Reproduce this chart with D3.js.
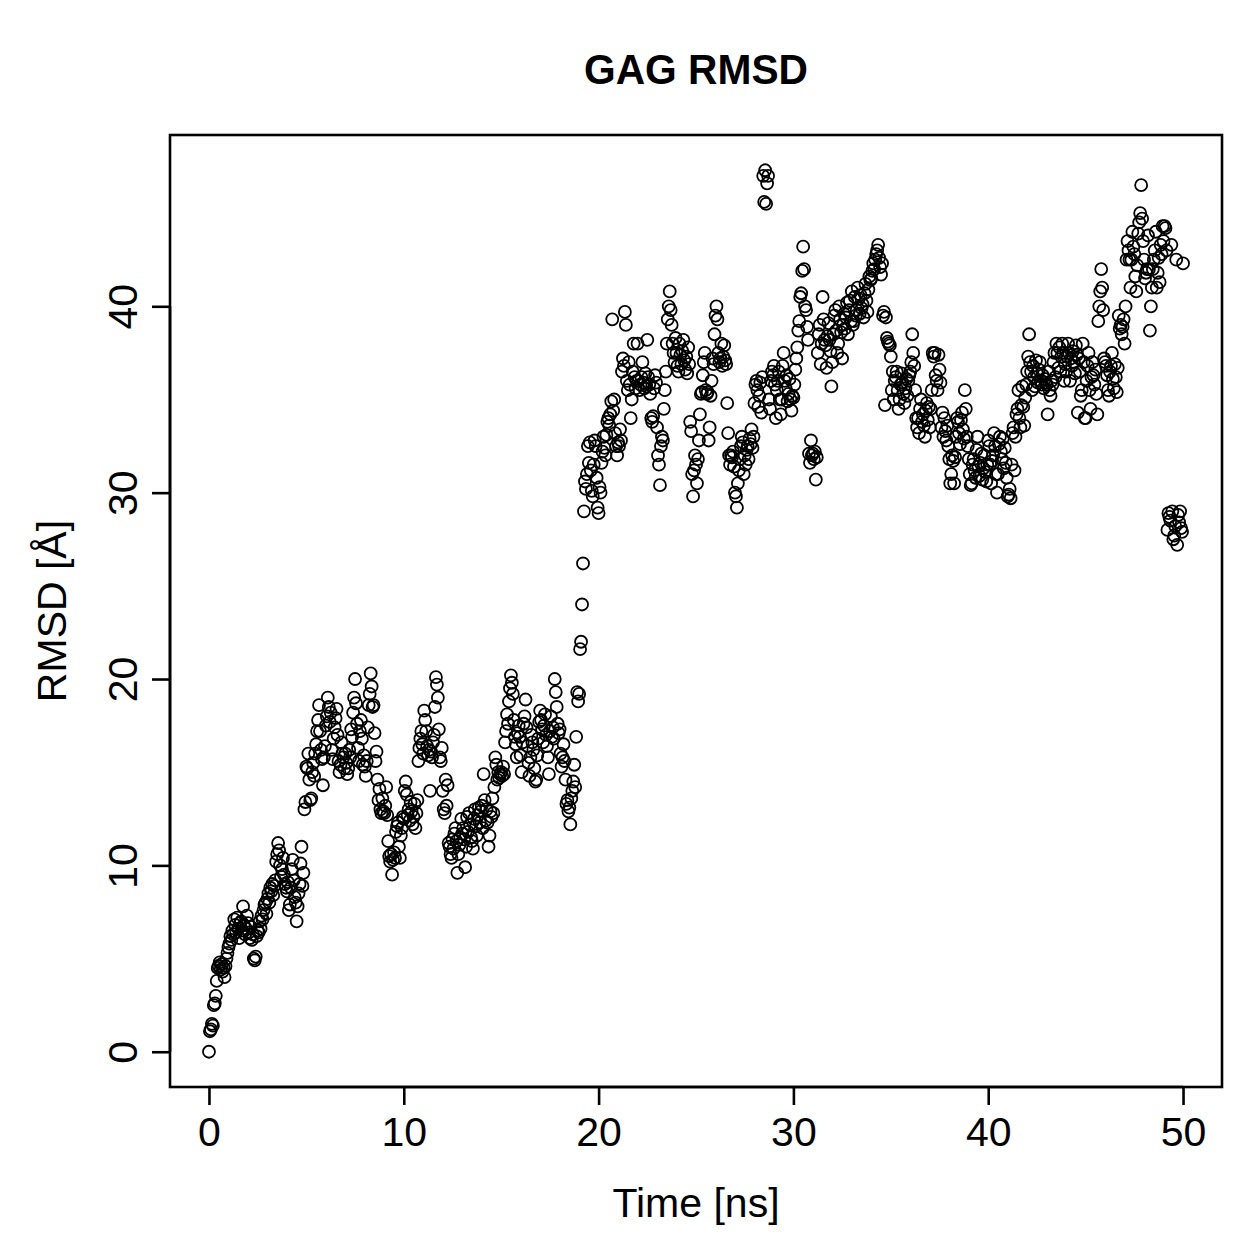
<!DOCTYPE html>
<html><head><meta charset="utf-8">
<script src="https://cdn.jsdelivr.net/npm/d3@7"></script>
<style>body{margin:0;background:#fff}svg{display:block}text{font-family:"Liberation Sans",Arial,Helvetica,sans-serif}</style>
</head><body>
<script>
// RMSD values [Å], one inner array per nanosecond (frames every ~0.05 ns)
const rmsd_0_10 = [
 [0.0,1.1,1.2,1.5,1.4,2.5,2.6,3.0,3.8,4.5,4.6,4.8,4.4,4.7,4.3,4.5,4.0,4.6,5.0,5.3],
 [5.6,5.8,6.2,6.0,6.5,6.3,7.1,6.8,6.4,7.2,6.6,6.1,6.9,7.0,6.5,7.8,6.8,6.3,6.6,7.3],
 [6.9,6.4,6.1,6.7,6.0,6.3,5.0,4.9,5.1,6.2,6.5,6.4,7.0,6.6,7.3,7.1,7.6,7.9,8.0,7.4],
 [8.2,8.5,8.0,8.8,8.6,9.0,8.4,8.9,9.2,10.2,10.6,11.2,10.8,10.0,9.4,9.8,10.4,9.5,9.0,8.8],
 [8.6,9.1,7.6,7.9,8.8,9.8,10.3,9.2,8.3,8.0,7.0,7.8,8.5,9.0,10.1,11.0,8.9,9.6,13.0,13.4],
 [15.3,15.2,16.0,14.6,13.5,13.6,15.0,15.5,14.8,16.0,16.5,17.2,17.8,18.6,17.2,16.2,15.7,14.3,15.8,16.4],
 [17.5,18.0,19.0,18.5,17.7,18.2,16.2,15.7,16.8,17.4,17.9,18.4,17.0,15.6,15.0,15.4,16.6,16.0,15.8,15.2],
 [16.0,15.5,14.9,15.2,16.2,15.8,17.3,16.9,18.2,19.0,20.0,18.7,17.6,16.3,15.6,17.2,17.8,16.8,15.4,15.9],
 [15.3,14.8,15.6,17.4,18.6,19.2,20.3,19.6,18.5,18.6,17.1,15.6,16.1,14.6,13.5,14.1,13.0,12.8,13.6,12.9],
 [12.8,13.2,14.2,12.7,11.3,10.5,10.2,10.6,9.5,10.3,10.7,10.4,11.8,12.1,12.3,11.0,10.4,11.6,12.0,12.6]
];
const rmsd_10_20 = [
 [12.5,14.0,14.5,13.8,12.7,13.0,12.4,13.4,12.9,12.2,12.6,13.3,12.0,12.8,13.5,15.6,16.3,16.8,17.2,16.5],
 [16.0,18.3,17.8,17.2,16.4,15.9,16.2,14.0,16.1,15.8,16.6,17.0,18.5,20.1,19.7,19.0,17.3,15.8,15.6,16.3],
 [14.0,13.0,12.8,14.6,13.2,14.3,11.2,11.0,10.6,10.4,11.4,10.9,11.7,12.0,11.3,9.6,10.6,11.1,11.5,12.5],
 [11.7,12.0,11.4,9.9,11.0,12.6,11.8,12.8,12.2,11.5,11.3,10.9,12.5,13.0,12.1,11.6,12.7,13.1,12.3,12.9],
 [13.2,12.0,14.9,13.5,12.4,13.0,12.3,11.0,11.6,12.9,12.6,13.6,12.8,14.2,15.8,15.4,14.6,15.0,14.7,14.9],
 [15.0,14.8,15.3,14.9,16.6,17.2,18.1,17.6,18.8,19.5,20.2,19.8,19.2,17.8,16.9,16.5,15.8,17.1,17.5,16.9],
 [15.9,15.0,16.6,17.6,18.0,18.9,17.4,16.4,15.5,14.8,15.8,17.0,16.6,16.2,15.2,14.5,14.6,15.9,16.8,17.7],
 [18.3,17.8,17.3,16.6,17.5,18.1,17.0,16.4,15.8,14.9,17.2,18.0,16.9,17.4,16.8,20.0,19.3,18.5,17.6,17.1],
 [17.3,16.0,15.3,15.8,16.5,15.6,14.6,13.3,13.5,12.9,13.1,12.2,13.6,14.0,14.5,15.4,14.2,16.9,19.3,18.8],
 [19.2,21.6,22.0,24.0,26.2,29.0,30.6,30.2,31.0,32.5,31.6,32.7,31.2,30.1,29.8,31.5,32.8,32.5,30.8,29.2]
];
const rmsd_20_30 = [
 [28.9,30.3,30.0,31.6,32.2,33.0,32.4,32.0,33.1,33.8,34.0,33.6,34.2,34.9,39.3,34.4,35.0,33.2,32.5,32.0],
 [32.7,32.5,33.4,32.8,36.5,37.2,36.8,39.7,39.0,36.0,35.5,37.0,35.8,34.0,35.0,36.5,38.0,36.2,35.6,36.0],
 [38.0,36.0,35.5,35.8,36.2,37.0,35.9,35.6,36.4,35.7,38.2,36.2,35.8,35.3,34.0,33.8,34.1,35.6,36.3,35.9],
 [33.5,32.0,31.5,30.4,32.5,33.0,32.8,34.5,35.5,36.5,38.0,39.3,40.0,40.8,39.8,39.0,38.0,37.5,37.0,38.3],
 [37.5,36.8,36.5,38.0,37.4,36.9,37.6,38.2,37.1,36.6,37.3,36.4,37.8,36.9,33.8,33.3,31.0,29.8,31.2,32.0],
 [31.5,30.5,31.8,32.8,34.2,35.3,35.4,36.3,37.0,37.5,35.5,35.3,35.4,32.8,33.5,35.2,36.0,37.2,36.9,38.5],
 [39.5,40.0,39.3,37.5,37.0,37.2,38.0,36.8,37.3,37.9,37.1,36.9,34.8,33.2,32.0,31.5,32.0,31.9,32.2,31.4],
 [30.0,29.8,29.2,30.5,31.2,31.8,32.5,33.0,32.7,31.0,32.0,31.5,32.3,32.5,31.8,32.9,32.6,33.4,32.4,33.0],
 [34.8,35.8,36.0,35.5,34.6,35.2,35.9,34.3,36.2,47.0,45.6,47.3,45.5,46.6,47.0,35.0,34.5,36.0,36.5,36.3],
 [36.8,35.8,34.0,35.5,36.0,36.5,35.0,34.2,35.0,36.8,37.5,36.0,35.6,36.3,34.9,35.3,36.1,35.0,34.4,35.2]
];
const rmsd_30_40 = [
 [35.1,35.8,36.6,37.2,37.8,38.7,39.2,40.5,40.7,41.9,43.2,42.0,40.0,39.8,38.9,38.2,32.1,31.6,32.8,32.0],
 [32.1,31.8,32.2,30.7,31.9,37.5,38.5,39.0,36.9,38.0,40.5,39.3,38.2,37.9,36.7,38.4,39.1,38.2,37.6,35.7],
 [37.0,38.5,39.5,39.8,38.7,37.5,38.0,40.0,39.3,38.6,37.2,39.0,39.6,38.8,39.4,40.2,38.5,39.8,40.3,39.2],
 [40.8,39.0,39.2,40.5,39.5,39.8,41.0,40.4,39.6,40.6,39.9,40.1,39.4,40.7,41.2,40.3,39.7,40.9,41.6,41.4],
 [41.5,41.9,42.3,42.0,42.5,42.8,43.0,43.3,42.6,42.1,41.7,42.3,39.5,39.7,34.7,39.4,38.3,38.1,38.0,37.9],
 [37.3,35.5,36.5,35.0,36.0,36.2,36.5,35.5,34.5,35.0,35.8,36.4,35.9,35.3,34.8,35.6,36.1,35.2,36.0,36.3],
 [36.5,37.0,38.5,37.5,36.8,35.5,34.0,33.5,34.0,33.2,34.5,35.0,33.8,34.2,33.6,33.0,34.4,34.8,33.9,34.6],
 [33.5,34.5,35.5,37.5,37.3,37.5,36.3,36.0,35.5,37.4,36.6,35.9,33.5,34.3,33.0,34.0,33.3,32.8,33.6,32.5],
 [31.8,30.5,31.0,32.0,31.7,30.5,31.9,33.0,34.0,33.8,33.2,32.6,33.9,34.3,33.4,32.9,35.5,34.5,33.0,32.5],
 [31.8,31.0,30.4,30.5,31.5,31.8,31.2,30.8,32.3,33.0,31.4,30.9,31.6,32.1,30.7,31.3,32.0,31.1,30.6,31.5]
];
const rmsd_40_50 = [
 [32.8,32.5,31.5,30.5,31.7,32.0,33.2,32.5,31.0,30.0,31.0,32.6,33.0,32.2,31.8,32.9,31.3,32.4,31.6,30.8],
 [29.8,29.9,30.2,29.7,31.5,33.2,33.5,31.2,33.0,34.2,34.5,35.5,34.0,33.5,34.7,35.7,34.6,33.6,35.1,35.8],
 [36.5,37.3,38.5,37.0,36.5,35.5,36.8,36.2,35.7,37.1,36.4,35.9,36.6,37.0,36.0,35.8,36.3,35.6,36.1,35.9],
 [35.8,34.2,36.5,35.5,35.2,36.0,35.8,37.0,37.5,36.2,38.0,37.5,36.7,37.8,36.5,37.3,38.0,37.5,36.0,36.9],
 [36.5,37.3,38.0,37.5,36.0,37.2,36.8,37.6,37.0,36.4,37.9,37.4,34.3,37.2,36.5,35.2,35.5,38.0,37.0,34.0],
 [34.0,36.0,36.8,37.5,35.5,34.5,36.2,37.0,36.3,35.8,36.6,35.3,34.2,39.2,40.0,40.8,42.0,41.0,39.8,37.2],
 [37.0,36.8,36.3,35.5,35.2,36.5,36.8,37.5,36.1,35.6,36.9,36.2,35.4,36.7,39.5,38.8,39.0,38.5,38.9,39.3],
 [38.0,40.0,42.5,43.5,43.0,42.5,41.0,42.5,44.0,43.2,42.8,41.6,40.8,42.2,43.9,44.5,45.0,46.5,44.7,43.5],
 [42.5,41.5,41.8,42.0,43.8,42.0,38.7,40.0,41.0,42.0,42.5,43.0,44.0,41.0,41.8,42.6,41.3,43.3,42.8,44.3],
 [43.5,44.3,44.2,43.0,28.0,28.9,28.7,28.5,43.3,29.0,27.5,27.7,28.2,42.5,27.2,28.8,28.4,29.0,28.1,27.9]
];
const rmsd_final = 42.3;   // frame at 50 ns
const xTicks = [0, 10, 20, 30, 40, 50];
const yTicks = [0, 10, 20, 30, 40];
const titleText = "GAG RMSD";
const xLabel = "Time [ns]";
const yLabel = "RMSD [Å]";

// build points
const blocks = [].concat(rmsd_0_10, rmsd_10_20, rmsd_20_30, rmsd_30_40, rmsd_40_50);
const points = [];
blocks.forEach((arr, ns) => arr.forEach((v, j) => points.push({t: ns + j / arr.length, v})));
points.push({t: 50, v: rmsd_final});

const W = 1259, H = 1259;
const box = {left: 170, right: 1222, top: 135, bottom: 1087};
const svg = d3.select("body").append("svg").attr("width", W).attr("height", H);

const tExt = d3.extent(points, d => d.t), vExt = d3.extent(points, d => d.v);
const tPad = (tExt[1] - tExt[0]) * 0.04, vPad = (vExt[1] - vExt[0]) * 0.04;
const x = d3.scaleLinear().domain([tExt[0] - tPad, tExt[1] + tPad]).range([box.left, box.right]);
const y = d3.scaleLinear().domain([vExt[0] - vPad, vExt[1] + vPad]).range([box.bottom, box.top]);

// points
svg.append("g").selectAll("circle").data(points).join("circle")
  .attr("cx", d => x(d.t)).attr("cy", d => y(d.v)).attr("r", 6.0)
  .attr("fill", "none").attr("stroke", "#000").attr("stroke-width", 1.8);

// box
svg.append("rect").attr("x", box.left).attr("y", box.top)
  .attr("width", box.right - box.left).attr("height", box.bottom - box.top)
  .attr("fill", "none").attr("stroke", "#000").attr("stroke-width", 2.6);

// x axis
const xAxis = d3.axisBottom(x).tickValues(xTicks).tickSize(18).tickPadding(12).tickFormat(d3.format("d"));
const gx = svg.append("g").attr("transform", `translate(0,${box.bottom})`).call(xAxis);
gx.select(".domain").attr("d", `M${x(xTicks[0])},0H${x(xTicks[xTicks.length-1])}`).attr("stroke-width", 2.6);
gx.selectAll(".tick line").attr("stroke-width", 2.6);
gx.selectAll("text").attr("font-size", 41).attr("fill", "#000")
  .attr("font-family", '"Liberation Sans",Arial,sans-serif').attr("dy", "0.71em");

// y axis
const yAxis = d3.axisLeft(y).tickValues(yTicks).tickSize(18).tickFormat(d3.format("d"));
const gy = svg.append("g").attr("transform", `translate(${box.left},0)`).call(yAxis);
gy.select(".domain").attr("d", `M0,${y(yTicks[0])}V${y(yTicks[yTicks.length-1])}`).attr("stroke-width", 2.6);
gy.selectAll(".tick line").attr("stroke-width", 2.6);
gy.selectAll(".tick text")
  .attr("x", null).attr("dy", null)
  .attr("transform", "translate(-33,0) rotate(-90)")
  .attr("text-anchor", "middle").attr("font-size", 41).attr("fill", "#000")
  .attr("font-family", '"Liberation Sans",Arial,sans-serif');

// labels
svg.append("text").attr("x", (box.left + box.right) / 2).attr("y", 1217)
  .attr("text-anchor", "middle").attr("font-size", 41).text(xLabel);
svg.append("text").attr("transform", `translate(66,${(box.top + box.bottom) / 2}) rotate(-90)`)
  .attr("text-anchor", "middle").attr("font-size", 41).text(yLabel);
svg.append("text").attr("x", (box.left + box.right) / 2).attr("y", 84)
  .attr("text-anchor", "middle").attr("font-size", 42).attr("font-weight", "bold")
  .attr("textLength", 224).attr("lengthAdjust", "spacingAndGlyphs").text(titleText);
</script>
</body></html>
